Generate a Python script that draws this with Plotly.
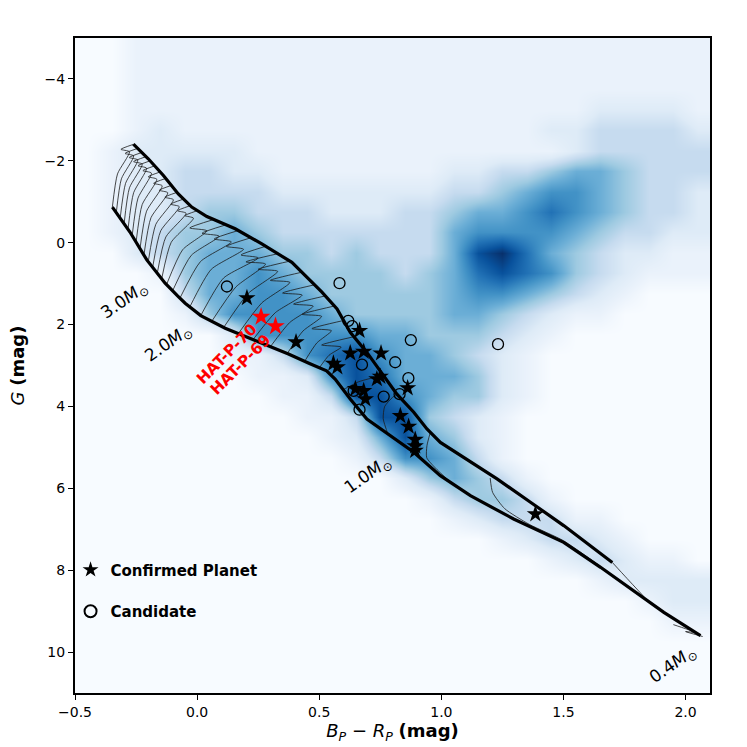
import plotly.graph_objects as go

# ---------------- data ----------------
# density grid (hexbin background): cell centres and levels 0-9
dens_x = [-0.45, -0.35, -0.25, -0.15, -0.05, 0.05, 0.15, 0.25, 0.35, 0.45, 0.55, 0.65, 0.75,
          0.85, 0.95, 1.05, 1.15, 1.25, 1.35, 1.45, 1.55, 1.65, 1.75, 1.85, 1.95, 2.05]
dens_g = [-4.75, -4.25, -3.75, -3.25, -2.75, -2.25, -1.75, -1.25, -0.75, -0.25, 0.25, 0.75,
          1.25, 1.75, 2.25, 2.75, 3.25, 3.75, 4.25, 4.75, 5.25, 5.75, 6.25, 6.75, 7.25, 7.75,
          8.25, 8.75, 9.25, 9.75, 10.25, 10.75]
dens_rows = [
    "00111111111111111111111111",
    "00111111111111111111111111",
    "00111111111111111111111111",
    "00111111111111111111122221",
    "00121111111111111112233332",
    "01222221111111111111233333",
    "01223322111111122334554333",
    "01223333222222233456654332",
    "01223443332223345567654332",
    "01234454333333356666543322",
    "00234555443433358975432211",
    "00014556544443457876432111",
    "00003556654444456654321000",
    "00001466665444455432110000",
    "00000026666655444321000000",
    "00000011367865543210000000",
    "00000001126875554210000000",
    "00000000113886544210000000",
    "00000000011388432100000000",
    "00000000001258542100000000",
    "00000000000136653100000000",
    "00000000000002454310000000",
    "00000000000000134431000000",
    "00000000000000012333110000",
    "00000000000000000123321000",
    "00000000000000000001232110",
    "00000000000000000000012222",
    "00000000000000000000000122",
    "00000000000000000000000011",
    "00000000000000000000000000",
    "00000000000000000000000000",
    "00000000000000000000000000",
]

# ZAMS (lower thick line) and end-of-MS locus (upper thick line)
zams_x = [-0.347, -0.275, -0.206, -0.131, -0.08, -0.049, 0.015, 0.115, 0.238, 0.374, 0.46, 0.53,
          0.565, 0.627, 0.695, 0.791, 0.887, 0.996, 1.119, 1.296, 1.501, 1.652, 1.775, 1.911, 2.061]
zams_g = [-0.87, -0.26, 0.42, 0.99, 1.30, 1.48, 1.78, 2.09, 2.39, 2.72, 2.95, 3.13,
          3.33, 3.82, 4.31, 4.72, 5.12, 5.69, 6.18, 6.75, 7.32, 7.93, 8.46, 9.03, 9.60]
tams_x = [-0.261, -0.2, -0.138, -0.077, -0.022, 0.04, 0.156, 0.265, 0.388, 0.511, 0.573, 0.627,
          0.695, 0.764, 0.818, 0.887, 0.941, 0.996, 1.078, 1.228, 1.365, 1.501, 1.700]
tams_g = [-2.41, -2.05, -1.64, -1.19, -0.87, -0.64, -0.34, 0.03, 0.48, 1.21, 1.62, 2.19,
          2.68, 3.25, 3.70, 4.14, 4.55, 4.88, 5.20, 5.77, 6.34, 6.91, 7.81]

# thin evolutionary tracks
tracks_x = [
    [-0.347, -0.326, -0.277, -0.312, -0.262],
    [-0.331, -0.310, -0.260, -0.295, -0.245],
    [-0.315, -0.293, -0.243, -0.278, -0.228],
    [-0.299, -0.277, -0.225, -0.260, -0.210],
    [-0.283, -0.260, -0.207, -0.242, -0.192],
    [-0.266, -0.242, -0.187, -0.222, -0.172],
    [-0.250, -0.225, -0.165, -0.200, -0.150],
    [-0.234, -0.207, -0.143, -0.178, -0.128],
    [-0.218, -0.189, -0.120, -0.155, -0.105],
    [-0.200, -0.169, -0.097, -0.132, -0.082],
    [-0.182, -0.149, -0.073, -0.108, -0.058],
    [-0.163, -0.128, -0.045, -0.080, -0.030],
    [-0.145, -0.106, -0.015, -0.050, 0.000],
    [-0.125, -0.059, 0.040, -0.030, 0.070],
    [-0.100, -0.024, 0.090, 0.020, 0.120],
    [-0.070, 0.014, 0.140, 0.070, 0.170],
    [-0.030, 0.058, 0.190, 0.120, 0.220],
    [0.015, 0.109, 0.250, 0.180, 0.280],
    [0.06, 0.159, 0.28, 0.20, 0.33],
    [0.11, 0.209, 0.33, 0.25, 0.38],
    [0.17, 0.265, 0.38, 0.30, 0.43],
    [0.23, 0.320, 0.43, 0.35, 0.48],
    [0.30, 0.379, 0.475, 0.395, 0.525],
    [0.37, 0.433, 0.51, 0.43, 0.56],
    [0.44, 0.49, 0.55, 0.47, 0.60],
    [0.50, 0.54, 0.59, 0.51, 0.64],
    [0.595, 0.627, 0.66, 0.70, 0.764],
    [0.784, 0.762, 0.768, 0.80, 0.818],
    [1.037, 0.975, 0.94, 0.941, 0.955],
    [1.20, 1.21, 1.26, 1.36, 1.50, 1.65],
    [1.70, 1.76, 1.83],
    [1.95, 2.00, 2.04, 2.00, 2.07],
]
tracks_g = [
    [-0.87, -1.68, -2.22, -2.28, -2.40],
    [-0.73, -1.56, -2.12, -2.18, -2.30],
    [-0.60, -1.45, -2.02, -2.08, -2.20],
    [-0.46, -1.34, -1.92, -1.98, -2.10],
    [-0.33, -1.22, -1.82, -1.88, -2.00],
    [-0.17, -1.09, -1.70, -1.76, -1.88],
    [-0.01, -0.93, -1.55, -1.61, -1.73],
    [0.15, -0.77, -1.39, -1.45, -1.57],
    [0.31, -0.61, -1.22, -1.28, -1.40],
    [0.46, -0.45, -1.05, -1.11, -1.23],
    [0.60, -0.29, -0.88, -0.94, -1.06],
    [0.74, -0.14, -0.72, -0.78, -0.90],
    [0.88, -0.01, -0.60, -0.66, -0.78],
    [1.02, 0.17, -0.29, -0.36, -0.57],
    [1.17, 0.31, -0.16, -0.23, -0.44],
    [1.35, 0.46, -0.02, -0.09, -0.30],
    [1.57, 0.65, 0.16, 0.09, -0.12],
    [1.78, 0.86, 0.37, 0.30, 0.09],
    [1.92, 1.08, 0.52, 0.47, 0.27],
    [2.06, 1.24, 0.70, 0.65, 0.45],
    [2.21, 1.47, 0.97, 0.92, 0.72],
    [2.36, 1.71, 1.28, 1.23, 1.03],
    [2.54, 1.95, 1.55, 1.50, 1.30],
    [2.70, 2.16, 1.80, 1.75, 1.55],
    [2.90, 2.45, 2.15, 2.10, 1.90],
    [3.06, 2.75, 2.55, 2.50, 2.30],
    [3.60, 3.50, 3.40, 3.33, 3.25],
    [4.72, 4.30, 4.00, 3.78, 3.70],
    [5.85, 5.50, 5.25, 4.96, 4.63],
    [5.75, 6.10, 6.50, 6.88, 7.28, 7.90],
    [7.81, 8.20, 8.65],
    [9.33, 9.43, 9.52, 9.50, 9.62],
]

# host stars
confirmed_x = [0.204, 0.405, 0.665, 0.627, 0.682, 0.753, 0.558, 0.574, 0.736, 0.750, 0.862,
               0.648, 0.682, 0.689, 0.832, 0.866, 0.893, 0.893, 0.893, 1.385]
confirmed_g = [1.35, 2.43, 2.15, 2.70, 2.66, 2.70, 2.95, 3.04, 3.33, 3.27, 3.55,
               3.57, 3.62, 3.82, 4.23, 4.49, 4.81, 4.97, 5.08, 6.63]
candidate_x = [0.122, 0.583, 0.619, 0.635, 0.675, 0.875, 0.811, 0.865, 0.764, 0.829, 0.665, 0.641, 1.232]
candidate_g = [1.07, 0.99, 1.91, 2.04, 2.98, 2.38, 2.92, 3.31, 3.76, 3.70, 4.08, 3.62, 2.48]
hat_names = ["HAT-P-70", "HAT-P-69"]
hat_x = [0.262, 0.321]
hat_g = [1.81, 2.04]

mass_labels = ["3.0", "2.0", "1.0", "0.4"]
mass_label_x = [-0.295, -0.115, 0.70, 1.947]
mass_label_g = [1.42, 2.47, 5.68, 10.32]

x_ticks = [-0.5, 0.0, 0.5, 1.0, 1.5, 2.0]
x_ticktext = ["\u22120.5", "0.0", "0.5", "1.0", "1.5", "2.0"]
y_ticks = [-4, -2, 0, 2, 4, 6, 8, 10]
y_ticktext = ["\u22124", "\u22122", "0", "2", "4", "6", "8", "10"]

# ---------------- figure ----------------
FONT = "DejaVu Sans"
blues = [[0, "#f7fbff"], [1 / 9, "#eaf2fb"], [2 / 9, "#deebf7"], [3 / 9, "#c6dbef"],
         [4 / 9, "#9ecae1"], [5 / 9, "#6baed6"], [6 / 9, "#4292c6"], [7 / 9, "#2171b5"],
         [8 / 9, "#08519c"], [1, "#08306b"]]

fig = go.Figure()
fig.add_trace(go.Heatmap(
    x=dens_x, y=dens_g, z=[[int(c) for c in row] for row in dens_rows],
    colorscale=blues, zmin=0, zmax=9, zsmooth="best", showscale=False, hoverinfo="skip"))

for tx, tg in zip(tracks_x, tracks_g):
    fig.add_trace(go.Scatter(x=tx, y=tg, mode="lines", showlegend=False, hoverinfo="skip",
                             line=dict(color="#1a1a1a", width=0.8, shape="spline", smoothing=0.6)))

fig.add_trace(go.Scatter(x=zams_x, y=zams_g, mode="lines", showlegend=False,
                         line=dict(color="black", width=3.2)))
fig.add_trace(go.Scatter(x=tams_x, y=tams_g, mode="lines", showlegend=False,
                         line=dict(color="black", width=3.2)))

fig.add_trace(go.Scatter(x=confirmed_x, y=confirmed_g, mode="markers", name="<b>Confirmed Planet</b>",
                         legendgroup="a",
                         marker=dict(symbol="star", size=13, color="black", line=dict(width=0))))
fig.add_trace(go.Scatter(x=candidate_x, y=candidate_g, mode="markers", name="<b>Candidate</b>",
                         legendgroup="b",
                         marker=dict(symbol="circle-open", size=11, color="black", line=dict(width=1.3))))
fig.add_trace(go.Scatter(x=hat_x, y=hat_g, mode="markers", showlegend=False,
                         marker=dict(symbol="star", size=14, color="#ff0000", line=dict(width=0))))

annotations = []
hat_label_pos = [(0.122, 2.72), (0.178, 2.99)]
for name, (lx, lg) in zip(hat_names, hat_label_pos):
    annotations.append(dict(x=lx, y=lg, xref="x", yref="y", text="<b>" + name + "</b>",
                            showarrow=False, textangle=-45,
                            font=dict(family=FONT, size=15.5, color="#ff0000")))
for lab, lx, lg in zip(mass_labels, mass_label_x, mass_label_g):
    annotations.append(dict(x=lx, y=lg, xref="x", yref="y",
                            text=lab + "<i>M</i><sub>\u2299</sub>",
                            showarrow=False, textangle=-35,
                            font=dict(family=FONT, size=17, color="black")))

fig.update_layout(
    width=747, height=747,
    margin=dict(l=75, r=37, t=38, b=54),
    paper_bgcolor="white", plot_bgcolor="#f7fbff",
    font=dict(family=FONT, size=14, color="black"),
    annotations=annotations,
    legend=dict(x=-0.007, y=0.213, xanchor="left", yanchor="top",
                bgcolor="rgba(0,0,0,0)", borderwidth=0, traceorder="grouped",
                itemsizing="constant",
                tracegroupgap=19, font=dict(family=FONT, size=15, color="black")),
    xaxis=dict(range=[-0.5, 2.1], tickvals=x_ticks, ticktext=x_ticktext, automargin=False,
               showgrid=False, zeroline=False, showline=True, mirror=True,
               linecolor="black", linewidth=2, ticks="outside", ticklen=5, tickwidth=1.2,
               tickcolor="black", tickfont=dict(size=14),
               title=dict(text="<i>B</i><sub><i>P</i></sub> \u2212 <i>R</i><sub><i>P</i></sub> <b>(mag)</b>",
                          font=dict(size=18), standoff=6)),
    yaxis=dict(range=[11, -5], tickvals=y_ticks, ticktext=y_ticktext, automargin=False,
               showgrid=False, zeroline=False, showline=True, mirror=True,
               linecolor="black", linewidth=2, ticks="outside", ticklen=5, tickwidth=1.2,
               tickcolor="black", tickfont=dict(size=14),
               title=dict(text="<i>G</i> <b>(mag)</b>", font=dict(size=18), standoff=15)),
)

fig.write_html("out.html", config={"displayModeBar": False},
               post_script="document.body.style.margin='0px';")
